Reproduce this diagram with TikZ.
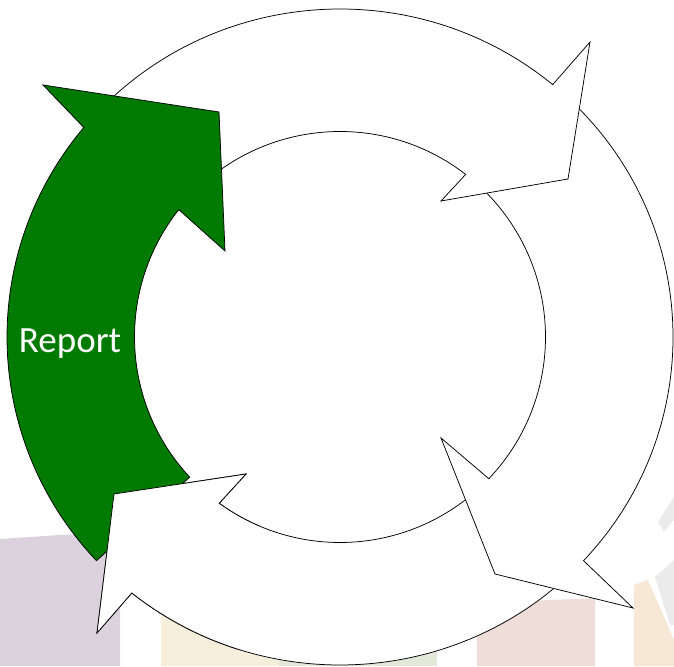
\documentclass[tikz,border=0pt]{standalone}
\usepackage{fontspec}
\setmainfont{Carlito}
\definecolor{arrowgreen}{RGB}{0,122,0}
\definecolor{bgpurple}{HTML}{DCD2DD}
\definecolor{bgyellow}{HTML}{F5EEDA}
\definecolor{bggreen}{HTML}{E4E8D8}
\definecolor{bgpink}{HTML}{EFDDD8}
\definecolor{bgpeach}{HTML}{F6E8D5}
\definecolor{bggray}{HTML}{EBEBEB}
\begin{document}
\begin{tikzpicture}[x=1pt,y=1pt,
  cyclearrow/.style={draw=black, line width=0.75pt, line join=miter},
  whitearrow/.style={cyclearrow, fill=white},
  greenarrow/.style={cyclearrow, fill=arrowgreen},
  labeltext/.style={text=white, font=\fontsize{37}{42}\selectfont, inner sep=0pt}]
\useasboundingbox (0,0) rectangle (674,666);
\fill[white] (0,0) rectangle (674,666);
% faint background stripes
\fill[bgpurple] (0,0) -- (120,0) -- (120,133) -- (60,131) -- (0,127) -- cycle;
\fill[bgyellow] (161,0) rectangle (279,70);
\fill[bggreen] (279,0) rectangle (437,70);
\fill[bgpink] (477,0) -- (595,0) -- (595,68) -- (530,65) -- (477,60) -- cycle;
\fill[bgpeach] (634,0) -- (674,0) -- (674,26) -- (648,86) -- (634,81) -- cycle;
\fill[bggray] (674,169) -- (658,144) -- (664,134) -- (674,146) -- cycle;
\fill[bggray] (674,106) -- (655,89) -- (670,41) -- (674,41) -- cycle;
\begin{scope}[shift={(340,329)}]
\def\ArrG{(223:333 and 328) arc[start angle=223, end angle=140.3, x radius=333, y radius=328]
  -- (-297,252) -- (-121,225) -- (-115,86) -- (141.7:205.5)
  arc[start angle=141.7, end angle=223, radius=205.5] -- cycle}
\def\ArrT{(135:333 and 328) arc[start angle=135, end angle=50.3, x radius=333, y radius=328]
  -- (250,295) -- (228,158) -- (101,136) -- (52.3:205.5)
  arc[start angle=52.3, end angle=135, radius=205.5] -- cycle}
\def\ArrR{(47:333 and 328) arc[start angle=47, end angle=-43, x radius=333, y radius=328]
  -- (293,-271) -- (155,-237) -- (101,-101) -- (-43.6:205.5)
  arc[start angle=-43.6, end angle=47, radius=205.5] -- cycle}
\def\ArrB{(-48:333 and 328) arc[start angle=-48, end angle=-128.7, x radius=333, y radius=328]
  -- (-243,-296) -- (-226,-157) -- (-94,-137) -- (-126:205.5)
  arc[start angle=-126, end angle=-48, radius=205.5] -- cycle}
\path[whitearrow] \ArrB;
\path[whitearrow] \ArrR;
\path[whitearrow] \ArrT;
\path[greenarrow] \ArrG;
\begin{scope}
  \clip (-280,-313) rectangle (-80,-118);
  \path[whitearrow] \ArrB;
\end{scope}
\end{scope}
\node[labeltext] (report) at (70,322) {Report};
\end{tikzpicture}
\end{document}
